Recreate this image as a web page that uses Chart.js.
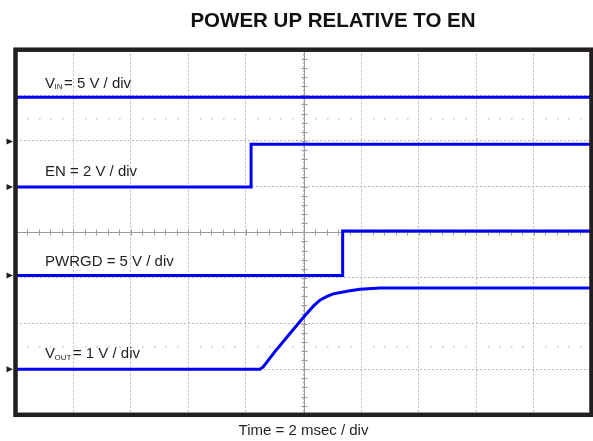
<!DOCTYPE html>
<html>
<head>
<meta charset="utf-8">
<title>Power up relative to EN</title>
<script src="https://cdn.jsdelivr.net/npm/chart.js@4.4.0/dist/chart.umd.min.js"></script>
<style>
  html, body { margin: 0; padding: 0; background: #fff; }
</style>
</head>
<body>
<canvas id="scopeChart" width="593" height="441"></canvas>
<script>
// scope time axis, 2 ms / div over 10 divisions
const timeTicks = [0, 2, 4, 6, 8, 10, 12, 14, 16, 18, 20];

// VIN trace (volts)
const vinTime = [0, 20];
const vinVolts = [4.85, 4.85];

// EN trace, steps up at ~8.2 ms
const enTime = [0, 8.18, 8.18, 20];
const enVolts = [0, 0, 1.88, 1.88];

// PWRGD trace
const pgTime = [0, 11.36, 11.36, 20];
const pgVolts = [0, 0, 4.9, 4.9];

// VOUT soft-start ramp
const voutTime = [0, 8.49, 8.60, 9.00, 9.50, 10.03, 10.34, 10.57, 10.80, 11.03, 11.61, 11.96, 12.66, 20];
const voutVolts = [0, 0, 0.05, 0.38, 0.76, 1.16, 1.38, 1.51, 1.59, 1.65, 1.72, 1.75, 1.78, 1.78];

// channel setup: volts per div, ground marker position (div from bottom), label row (div)
const channels = [
    { axis: 'yVin', main: 'V', sub: 'IN', rest: '= 5 V / div', vPerDiv: 5, ground: 5.99, labelDiv: 7.17 },
    { axis: 'yEn', main: 'EN = 2 V / div', sub: '', rest: '', vPerDiv: 2, ground: 4.99, labelDiv: 5.23 },
    { axis: 'yPg', main: 'PWRGD = 5 V / div', sub: '', rest: '', vPerDiv: 5, ground: 3.05, labelDiv: 3.26 },
    { axis: 'yOut', main: 'V', sub: 'OUT', rest: '= 1 V / div', vPerDiv: 1, ground: 1.0, labelDiv: 1.24 }
];

const traceColor = 'rgb(0, 0, 245)';
const inkColor = '#231f20';
const fontFamily = '"Liberation Sans", Arial, sans-serif';

function toPoints(times, volts) {
    return times.map((t, i) => ({ x: t, y: volts[i] }));
}

function traceSet(label, times, volts, axis) {
    return {
        label: label,
        data: toPoints(times, volts),
        yAxisID: axis,
        borderColor: traceColor,
        borderWidth: 3,
        pointRadius: 0,
        tension: 0,
        fill: false
    };
}

// one hidden axis per channel so the data can stay in volts
function channelAxis(ch) {
    return {
        type: 'linear',
        display: false,
        min: -ch.ground * ch.vPerDiv,
        max: (8 - ch.ground) * ch.vPerDiv
    };
}

const scopeDecor = {
    id: 'scopeDecor',
    beforeDatasetsDraw(chart) {
        const { ctx, chartArea: a, scales: { x, y } } = chart;
        const cx = Math.round(x.getPixelForValue(10)) + 0.5;
        const cy = Math.round(y.getPixelForValue(4)) + 0.5;
        ctx.save();
        // centre cross with minor ticks
        ctx.strokeStyle = '#9c9c9c';
        ctx.lineWidth = 1;
        ctx.beginPath();
        ctx.moveTo(cx, a.top); ctx.lineTo(cx, a.bottom);
        ctx.moveTo(a.left, cy); ctx.lineTo(a.right, cy);
        for (let t = 0; t <= 20.001; t += 0.4) {
            const px = Math.round(x.getPixelForValue(t)) + 0.5;
            ctx.moveTo(px, cy - 3); ctx.lineTo(px, cy + 3);
        }
        for (let d = 0; d <= 8.001; d += 0.2) {
            const py = Math.round(y.getPixelForValue(d)) + 0.5;
            ctx.moveTo(cx - 3, py); ctx.lineTo(cx + 3, py);
        }
        ctx.stroke();
        // sparse dot rows
        ctx.fillStyle = '#c4c4c4';
        [6.5, 1.5].forEach(d => {
            const py = Math.round(y.getPixelForValue(d));
            for (let t = 0.4; t < 20; t += 0.4) {
                if (Math.abs(t / 2 - Math.round(t / 2)) < 0.01) continue;
                ctx.fillRect(Math.round(x.getPixelForValue(t)), py, 1.5, 1.5);
            }
        });
        ctx.restore();
    },
    afterDraw(chart) {
        const { ctx, chartArea: a, scales } = chart;
        ctx.save();
        // frame
        ctx.strokeStyle = inkColor;
        ctx.lineWidth = 4.5;
        ctx.strokeRect(a.left, a.top, a.right - a.left, a.bottom - a.top);

        // ground markers and channel labels
        channels.forEach(ch => {
            const gy = scales[ch.axis].getPixelForValue(0);
            ctx.fillStyle = inkColor;
            ctx.beginPath();
            ctx.moveTo(a.left - 9, gy - 3);
            ctx.lineTo(a.left - 2.5, gy);
            ctx.lineTo(a.left - 9, gy + 3);
            ctx.closePath();
            ctx.fill();

            const ly = scales.y.getPixelForValue(ch.labelDiv);
            let lx = a.left + 29.5;
            ctx.textBaseline = 'alphabetic';
            ctx.textAlign = 'left';
            ctx.font = '15px ' + fontFamily;
            ctx.fillText(ch.main, lx, ly);
            lx += ctx.measureText(ch.main).width;
            if (ch.sub) {
                ctx.font = '8px ' + fontFamily;
                ctx.fillText(ch.sub, lx - 0.5, ly + 1.5);
                lx += ctx.measureText(ch.sub).width + 1;
                ctx.font = '15px ' + fontFamily;
                ctx.fillText(ch.rest, lx, ly);
            }
        });

        // heading
        ctx.fillStyle = '#111';
        ctx.font = 'bold 20.5px ' + fontFamily;
        ctx.textAlign = 'center';
        ctx.textBaseline = 'alphabetic';
        ctx.fillText('POWER UP RELATIVE TO EN', 333, 26.7);
        ctx.restore();
    }
};

const scales = {
    x: {
        type: 'linear',
        min: timeTicks[0],
        max: timeTicks[timeTicks.length - 1],
        afterBuildTicks: axis => { axis.ticks = timeTicks.map(v => ({ value: v })); },
        ticks: { display: false },
        grid: { color: '#b8b8b8', lineWidth: 1, drawTicks: false },
        border: { display: false, dash: [2, 2] },
        title: {
            display: true,
            text: 'Time = 2 msec / div',
            color: inkColor,
            font: { family: fontFamily, size: 15 },
            padding: { top: 6.7, bottom: 1.5 }
        }
    },
    y: {
        type: 'linear',
        min: 0,
        max: 8,
        ticks: { display: false, stepSize: 1 },
        grid: { color: '#b8b8b8', lineWidth: 1, drawTicks: false },
        border: { display: false, dash: [2, 2] }
    }
};
channels.forEach(ch => { scales[ch.axis] = channelAxis(ch); });

new Chart(document.getElementById('scopeChart').getContext('2d'), {
    type: 'line',
    data: {
        datasets: [
            traceSet('VIN', vinTime, vinVolts, 'yVin'),
            traceSet('EN', enTime, enVolts, 'yEn'),
            traceSet('PWRGD', pgTime, pgVolts, 'yPg'),
            traceSet('VOUT', voutTime, voutVolts, 'yOut')
        ]
    },
    options: {
        responsive: false,
        animation: false,
        layout: { padding: { left: 15.5, right: 1.5, top: 49.7, bottom: 0 } },
        plugins: {
            legend: { display: false },
            tooltip: { enabled: false },
            title: { display: false }
        },
        scales: scales
    },
    plugins: [scopeDecor]
});
</script>
</body>
</html>
